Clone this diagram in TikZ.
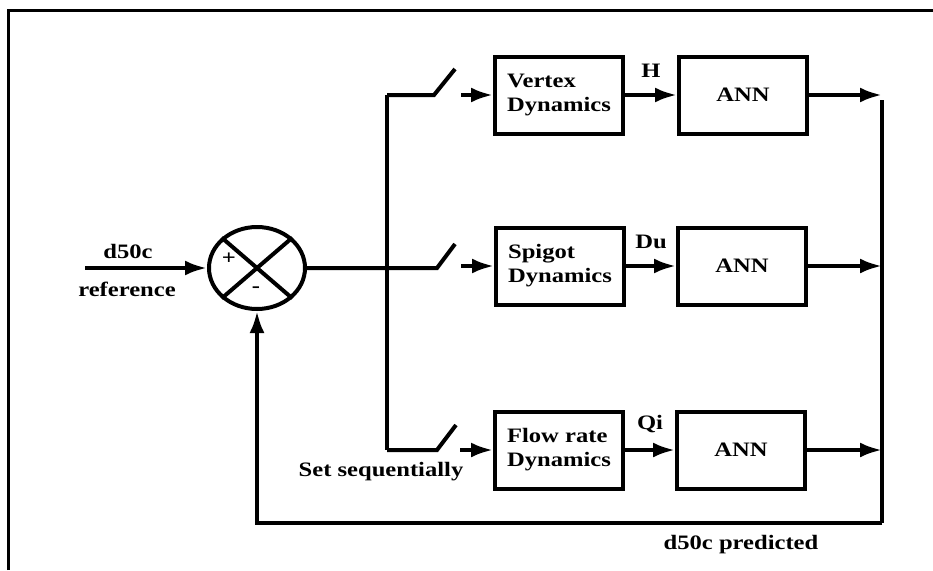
\documentclass[tikz,border=0pt]{standalone}
\usepackage{fontspec}
\setmainfont[FakeStretch=1.2]{Liberation Serif}
\usetikzlibrary{arrows.meta,shapes.geometric,positioning}
\tikzset{
  blk/.style={draw, line width=4pt, minimum width=128pt, minimum height=77pt, inner sep=2pt},
  sig/.style={line width=4pt, -{Latex[length=22pt,width=15pt]}},
  wire/.style={line width=4pt},
}
\begin{document}
\begin{tikzpicture}[x=1pt, y=-1pt, every node/.style={font=\fontsize{20.5}{24}\selectfont\bfseries}]
    \useasboundingbox (0,0) rectangle (933,570);
    \draw[line width=3pt] (8,570) -- (8,10) -- (933,10);
    % summing point
    \node[ellipse, draw, line width=4pt, minimum width=96pt, minimum height=82pt, inner sep=0pt] (sum) at (257,268) {};
    \draw[wire] (sum.north west) -- (sum.south east) (sum.north east) -- (sum.south west);
    \node (plus) at (229,259) {+};
    \node (minus) at (256,290) {-};
    \coordinate (ref) at (85,268);
    \draw[sig] (ref) -- (sum.west);
    \node (d50c) at (128,251) {d50c};
    \node (reflab) at (127,289) {reference};
    % blocks
    \node[blk, align=left] (vtx) at (559,95) {Vertex\\Dynamics};
    \node[blk] (ann1) at (743,95) {ANN};
    \node[blk, align=left] (spg) at (560,266) {Spigot\\Dynamics};
    \node[blk] (ann2) at (742,266) {ANN};
    \node[blk, align=left] (flw) at (559,450) {Flow rate\\Dynamics};
    \node[blk] (ann3) at (741,450) {ANN};
    % switches
    \coordinate (bus1) at (387,95);
    \coordinate (bus3) at (387,450);
    \coordinate (sw1) at (434,95);
    \coordinate (sw2) at (437,268);
    \coordinate (sw3) at (437,450);
    \draw[wire] (bus1) -- (bus3);
    \draw[wire] (bus1) -- (sw1) -- ++(21,-26);
    \draw[wire] (sum.east) -- (sw2) -- ++(18,-24);
    \draw[wire] (bus3) -- (sw3) -- ++(19,-25);
    \draw[sig] (sw1) ++(27,0) -- (vtx.west);
    \draw[sig] (spg.west) ++(-33,0) -- (spg.west);
    \draw[sig] (flw.west) ++(-33,0) -- (flw.west);
    \node (setseq) at (381,472) {Set sequentially};
    % to the networks
    \draw[sig] (vtx.east) -- node[above=12pt] {H} (ann1.west);
    \draw[sig] (spg.east) -- node[above=12pt] {Du} (ann2.west);
    \draw[sig] (flw.east) -- node[above=12pt] {Qi} (ann3.west);
    % feedback
    \coordinate (rt) at (882,95);
    \coordinate (rb) at (882,523);
    \draw[sig] (ann1.east) -- (ann1.east -| rb);
    \draw[sig] (ann2.east) -- (ann2.east -| rb);
    \draw[sig] (ann3.east) -- (ann3.east -| rb);
    \draw[wire] ([yshift=-5pt]rt) -- (rb);
    \draw[sig] (rb) -- (rb -| sum.south) -- (sum.south);
    \node (pred) at (741,545) {d50c predicted};
\end{tikzpicture}
\end{document}
